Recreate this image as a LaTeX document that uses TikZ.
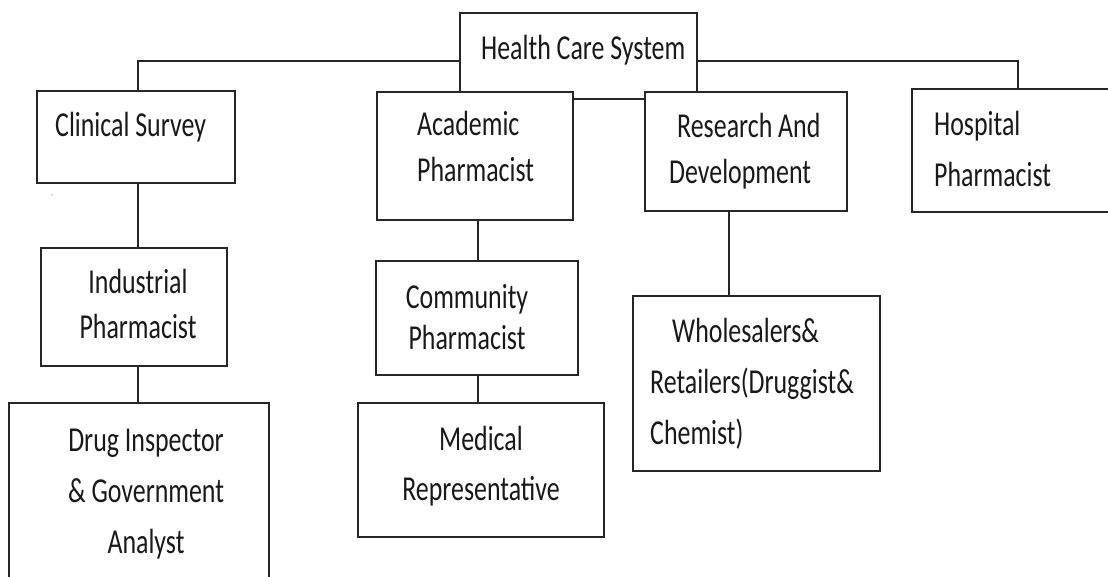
\documentclass[tikz,border=0pt]{standalone}
\usepackage{fontspec}
\setmainfont{Carlito}[FakeStretch=0.74]
\begin{document}
\begin{tikzpicture}[x=1pt,y=-1pt,
  box/.style={draw=black!85,line width=1.4pt,fill=white,inner sep=0pt,rectangle},
  conn/.style={draw=black!85,line width=1.4pt},
  lbl/.style={inner sep=0pt,font=\fontsize{35}{46}\selectfont,text=black!90}]
\useasboundingbox (0,0) rectangle (1108,577);
\clip (0,0) rectangle (1108,577);
% top box
\node[box,minimum width=237pt,minimum height=86pt] (hcs) at (578.5,56) {};
% boxes
\node[box,minimum width=198pt,minimum height=92pt] (cs) at (136,137) {};
\node[box,minimum width=196pt,minimum height=128pt] (ap) at (475,156) {};
\node[box,minimum width=202pt,minimum height=119pt] (rd) at (746,151.5) {};
\node[box,minimum width=208pt,minimum height=123pt] (hp) at (1016,150.5) {};
\node[box,minimum width=186pt,minimum height=118pt] (ip) at (134,307) {};
\node[box,minimum width=202pt,minimum height=114pt] (cp) at (477,318) {};
\node[box,minimum width=260pt,minimum height=197pt] (di) at (139,501.5) {};
\node[box,minimum width=246pt,minimum height=134pt] (mr) at (481,470) {};
\node[box,minimum width=247pt,minimum height=175pt] (ws) at (756.5,383.5) {};
% connectors
\draw[conn] ([yshift=-5pt]hcs.west) -| ([xshift=2pt]cs.north);
\draw[conn] ([yshift=-5pt]hcs.east) -| ([xshift=2pt]hp.north);
\draw[conn] ([xshift=2pt]cs.south) -- ([xshift=2pt]cs.south |- ip.north);
\draw[conn] ([xshift=4pt]ip.south) -- ([xshift=4pt]ip.south |- di.north);
\draw[conn] ([xshift=3pt]ap.south) -- ([xshift=3pt]ap.south |- cp.north);
\draw[conn] ([xshift=1pt]cp.south) -- ([xshift=1pt]cp.south |- mr.north);
\draw[conn] ([xshift=-17pt]rd.south) -- ([xshift=-17pt]rd.south |- ws.north);
% texts (multi-line nodes: base = baseline of the last line)
\node[lbl,anchor=base west] (thcs) at (481,60) {Health Care System};
\node[lbl,anchor=base west] (tcs) at (55,137) {Clinical Survey};
\node[lbl,anchor=base west,align=left] (tap) at (417,182) {Academic\\Pharmacist};
\node[lbl,anchor=base west,align=left] (trd) at (669,184) {\hspace*{8pt}Research And\\Development};
\node[lbl,anchor=base west,align=left,font=\fontsize{35}{51}\selectfont] (thp) at (934,187) {Hospital\\Pharmacist};
\node[lbl,anchor=base,align=center,font=\fontsize{35}{45}\selectfont] (tip) at (138,338) {Industrial\\Pharmacist};
\node[lbl,anchor=base,align=center,font=\fontsize{35}{41}\selectfont] (tcp) at (467,349) {Community\\Pharmacist};
\node[lbl,anchor=base,align=center,font=\fontsize{35}{51}\selectfont] (tdi) at (146,553) {Drug Inspector\\\& Government\\Analyst};
\node[lbl,anchor=base,align=center,font=\fontsize{35}{50}\selectfont] (tmr) at (481,500) {Medical\\Representative};
\node[lbl,anchor=base west,align=left,font=\fontsize{35}{51}\selectfont] (tws) at (650,444) {\hspace*{22pt}Wholesalers\&\\Retailers(Druggist\&\\Chemist)};
\node[inner sep=0pt,font=\fontsize{8}{8}\selectfont,text=black!70] (mark) at (52,196) {,};
\end{tikzpicture}
\end{document}
